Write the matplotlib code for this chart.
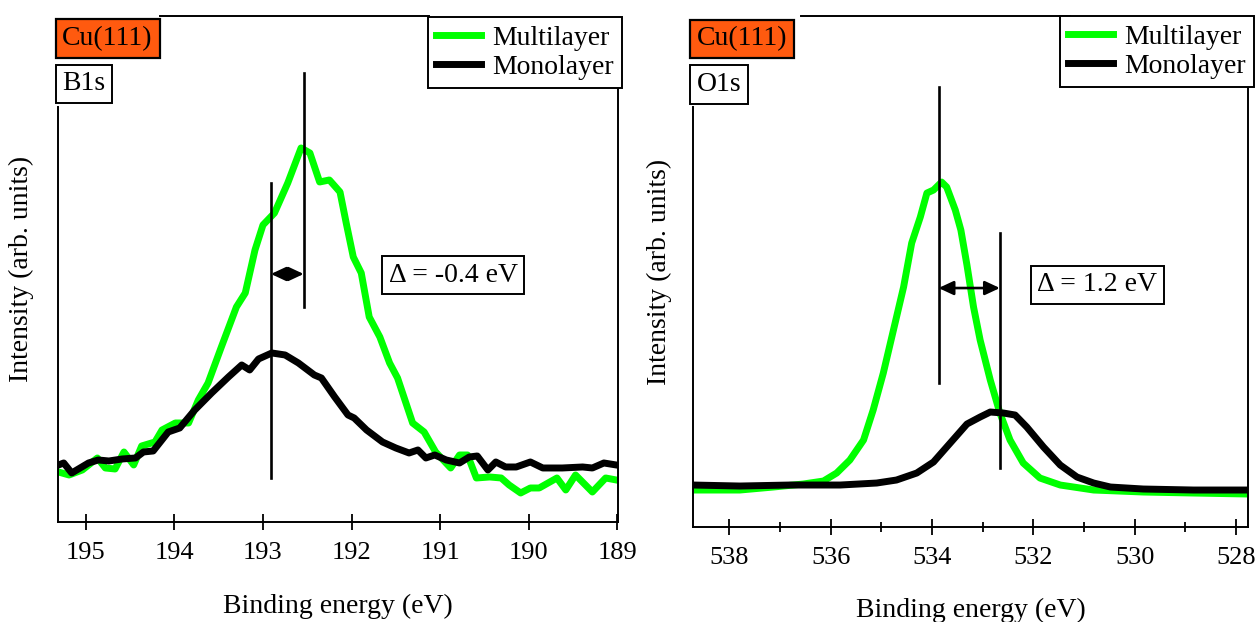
import matplotlib
matplotlib.use("Agg")
import matplotlib.pyplot as plt

plt.rcParams["font.family"] = ["Liberation Serif", "DejaVu Serif"]

# B1s spectra (binding energy in eV, intensity in arb. units)
b_multi_e = [195.31, 195.19, 195.04, 194.87, 194.78, 194.67, 194.57, 194.46, 194.37, 194.22,
             194.14, 193.99, 193.84, 193.73, 193.62, 193.47, 193.30, 193.20, 193.09, 193.00,
             192.87, 192.72, 192.57, 192.47, 192.36, 192.25, 192.13, 192.06, 191.98, 191.89,
             191.80, 191.68, 191.57, 191.48, 191.31, 191.18, 191.05, 190.88, 190.78, 190.69,
             190.59, 190.44, 190.31, 190.22, 190.09, 189.98, 189.88, 189.68, 189.58, 189.47,
             189.28, 189.13, 189.01]
b_multi_i = [0.50, 0.47, 0.52, 0.64, 0.54, 0.53, 0.70, 0.57, 0.76, 0.80,
             0.92, 0.99, 0.99, 1.22, 1.39, 1.75, 2.15, 2.29, 2.72, 2.97,
             3.09, 3.39, 3.74, 3.69, 3.40, 3.42, 3.30, 2.99, 2.65, 2.49,
             2.05, 1.85, 1.59, 1.44, 0.99, 0.90, 0.70, 0.54, 0.67, 0.67,
             0.44, 0.45, 0.44, 0.37, 0.29, 0.34, 0.34, 0.44, 0.32, 0.47,
             0.30, 0.44, 0.42]
b_mono_e = [195.31, 195.25, 195.16, 194.97, 194.86, 194.74, 194.59, 194.44, 194.35, 194.24,
            194.07, 193.94, 193.77, 193.58, 193.39, 193.24, 193.15, 193.05, 192.90, 192.75,
            192.60, 192.42, 192.34, 192.19, 192.04, 191.97, 191.83, 191.65, 191.50, 191.35,
            191.25, 191.16, 191.06, 190.93, 190.78, 190.67, 190.58, 190.46, 190.37, 190.26,
            190.14, 189.98, 189.84, 189.62, 189.39, 189.28, 189.15, 189.01]
b_mono_i = [0.57, 0.59, 0.49, 0.59, 0.62, 0.61, 0.63, 0.64, 0.70, 0.71,
            0.90, 0.94, 1.12, 1.29, 1.45, 1.57, 1.52, 1.63, 1.69, 1.67,
            1.59, 1.47, 1.44, 1.25, 1.07, 1.04, 0.92, 0.80, 0.74, 0.69,
            0.72, 0.64, 0.67, 0.62, 0.59, 0.65, 0.66, 0.52, 0.60, 0.55,
            0.55, 0.60, 0.54, 0.54, 0.55, 0.54, 0.59, 0.57]

# O1s spectra
o_multi_e = [538.72, 538.38, 537.79, 537.13, 536.54, 536.14, 535.88, 535.62, 535.35, 535.16,
             534.96, 534.76, 534.56, 534.40, 534.23, 534.10, 533.97, 533.81, 533.71, 533.54,
             533.43, 533.31, 533.18, 533.05, 532.85, 532.66, 532.46, 532.20, 531.87, 531.47,
             530.81, 529.83, 528.84, 527.76]
o_multi_i = [0.37, 0.37, 0.37, 0.40, 0.43, 0.46, 0.54, 0.67, 0.87, 1.17,
             1.54, 1.97, 2.40, 2.84, 3.10, 3.34, 3.37, 3.45, 3.40, 3.17,
             2.97, 2.62, 2.20, 1.87, 1.47, 1.14, 0.87, 0.64, 0.49, 0.42,
             0.37, 0.35, 0.34, 0.33]
o_mono_e = [538.72, 537.79, 536.80, 535.81, 535.09, 534.70, 534.30, 533.97, 533.64, 533.31,
            533.05, 532.85, 532.59, 532.36, 532.13, 531.80, 531.47, 531.14, 530.81, 530.48,
            529.83, 528.84, 527.76]
o_mono_i = [0.42, 0.41, 0.42, 0.42, 0.44, 0.47, 0.54, 0.65, 0.84, 1.03,
            1.10, 1.15, 1.14, 1.12, 1.00, 0.80, 0.62, 0.50, 0.44, 0.40,
            0.38, 0.37, 0.37]

# peak markers: energy, (bottom, top) of the marker line
b_peaks = [192.91, 192.54]
b_peak_spans = [(0.44, 3.39), (2.15, 4.49)]
b_arrow_y = 2.48
o_peaks = [533.87, 532.66]
o_peak_spans = [(1.44, 4.40), (0.59, 2.94)]
o_arrow_y = 2.39

b_ticks = [195, 194, 193, 192, 191, 190, 189]
o_ticks = [538, 536, 534, 532, 530, 528]
o_minor = [537, 535, 533, 531, 529]

GREEN = "#00FF00"
ORANGE = "#FF5A0F"
FS = 20


def draw_panel(ax, multi, mono, peaks, spans, arrow_y, core, delta, xlim, ylim,
               ticks, minor, spine_bounds, legend_anchor, label_x, xlabel_y, delta_pos):
    ax.plot(multi[0], multi[1], color=GREEN, lw=5, label="Multilayer", zorder=2,
            solid_joinstyle="round")
    ax.plot(mono[0], mono[1], color="black", lw=5, label="Monolayer", zorder=2.2,
            solid_joinstyle="round")
    for e, (lo, hi) in zip(peaks, spans):
        ax.plot([e, e], [lo, hi], color="black", lw=1.9, zorder=3)
    ax.annotate("", xy=(peaks[1], arrow_y), xytext=(peaks[0], arrow_y),
                arrowprops=dict(arrowstyle="<|-|>,head_length=0.6,head_width=0.28",
                                mutation_scale=15, color="black", lw=1.9,
                                shrinkA=0, shrinkB=0), zorder=3)

    ax.set_xlim(*xlim)
    ax.set_ylim(*ylim)
    ax.set_xticks(ticks)
    ax.set_xticks(minor, minor=True)
    ax.set_yticks([])
    ax.tick_params(axis="x", which="major", direction="inout", length=11, width=1.3,
                   labelsize=19, pad=9)
    ax.tick_params(axis="x", which="minor", direction="inout", length=7, width=1.3)

    for s in ax.spines.values():
        s.set_linewidth(1.4)
    ax.spines["left"].set_bounds(ylim[0], spine_bounds[0])
    ax.spines["right"].set_bounds(ylim[0], spine_bounds[1])
    ax.spines["top"].set_bounds(spine_bounds[2], spine_bounds[3])

    ax.set_xlabel("Binding energy (eV)", fontsize=FS)
    ax.set_ylabel("Intensity (arb. units)", fontsize=FS)
    ax.xaxis.set_label_coords(0.5, xlabel_y)
    ax.yaxis.set_label_coords(label_x, 0.5)

    ax.text(0.0893, 0.9555, "Cu(111)", transform=ax.transAxes, fontsize=FS,
            ha="center", va="center", zorder=6,
            bbox=dict(boxstyle="square,pad=0.24", fc=ORANGE, ec="black", lw=1.6))
    ax.text(0.0475, 0.866, core, transform=ax.transAxes, fontsize=FS,
            ha="center", va="center", zorder=6,
            bbox=dict(boxstyle="square,pad=0.24", fc="white", ec="black", lw=1.4))
    ax.text(delta_pos[0], delta_pos[1], delta, transform=ax.transAxes, fontsize=FS,
            ha="center", va="center", zorder=6,
            bbox=dict(boxstyle="square,pad=0.24", fc="white", ec="black", lw=1.4))

    leg = ax.legend(loc="upper right", bbox_to_anchor=legend_anchor, fontsize=FS,
                    fancybox=False, framealpha=1, edgecolor="black", borderaxespad=0,
                    handlelength=1.6, handletextpad=0.4, labelspacing=0.12,
                    borderpad=0.3)
    leg.get_frame().set_linewidth(1.4)
    leg.set_zorder(6)


fig = plt.figure(figsize=(12.59, 6.22), dpi=100)
ax1 = fig.add_axes([0.0457, 0.1608, 0.4452, 0.8135])
ax2 = fig.add_axes([0.5502, 0.1527, 0.4413, 0.8215])

draw_panel(ax1, (b_multi_e, b_multi_i), (b_mono_e, b_mono_i), b_peaks, b_peak_spans,
           b_arrow_y, "B1s", "\u0394 = -0.4 eV", (195.32, 188.99), (0, 5.06),
           b_ticks, [], (4.15, 4.35, 194.16, 191.13), (1.007, 0.998),
           -0.042, -0.142, (0.706, 0.488))
draw_panel(ax2, (o_multi_e, o_multi_i), (o_mono_e, o_mono_i), o_peaks, o_peak_spans,
           o_arrow_y, "O1s", "\u0394 = 1.2 eV", (538.72, 527.76), (0, 5.11),
           o_ticks, o_minor, (4.20, 4.40, 536.58, 531.27), (1.010, 1.0),
           -0.037, -0.138, (0.728, 0.474))

fig.savefig("out.png", dpi=100)
